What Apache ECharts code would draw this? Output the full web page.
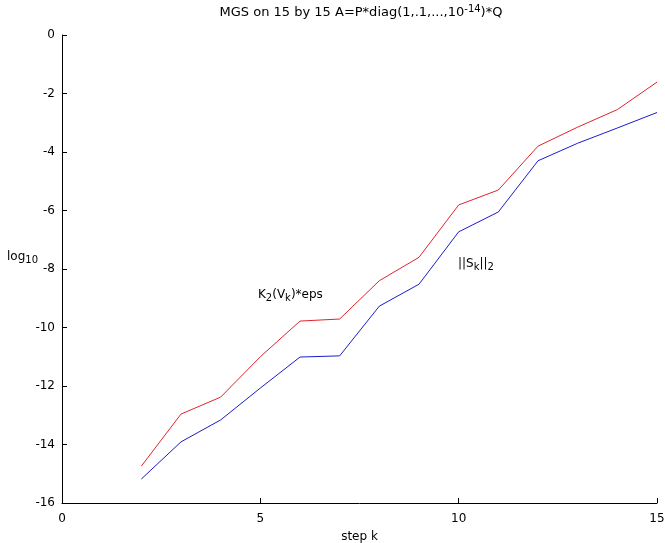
<!DOCTYPE html>
<html>
<head>
<meta charset="utf-8">
<script src="https://cdn.jsdelivr.net/npm/echarts@6/dist/echarts.min.js"></script>
<style>
html,body{margin:0;padding:0;background:#fff;}
#chart{width:665px;height:543px;}
</style>
</head>
<body>
<div id="chart"></div>
<script>
var steps = [2, 3, 4, 5, 6, 7, 8, 9, 10, 11, 12, 13, 14, 15];
var kappaEps = [-14.74, -12.96, -12.38, -11.0, -9.78, -9.71, -8.4, -7.6, -5.81, -5.3, -3.8, -3.15, -2.55, -1.61];
var normS = [-15.18, -13.91, -13.16, -12.07, -11.01, -10.97, -9.27, -8.52, -6.73, -6.05, -4.3, -3.7, -3.18, -2.65];
var xTicks = [0, 5, 10, 15];
var yTicks = [0, -2, -4, -6, -8, -10, -12, -14, -16];

var FONT = '"DejaVu Sans", "Liberation Sans", Arial, sans-serif';
var chart = echarts.init(document.getElementById('chart'), null, {renderer: 'canvas'});

function pairs(xs, ys) { return xs.map(function (x, i) { return [x, ys[i]]; }); }

var normal = {fontFamily: FONT, fontSize: 12, color: '#000', lineHeight: 14, verticalAlign: 'top'};
var sub = {fontFamily: FONT, fontSize: 10, color: '#000', lineHeight: 10, verticalAlign: 'bottom', padding: [9, 0, 0, 0]};
var normalB = {fontFamily: FONT, fontSize: 13, color: '#000', lineHeight: 15, verticalAlign: 'bottom', padding: [6, 0, 0, 0]};
var sup = {fontFamily: FONT, fontSize: 10, color: '#000', lineHeight: 11, verticalAlign: 'top', padding: [0, 0, 8, 0]};

chart.setOption({
  animation: false,
  backgroundColor: '#fff',
  grid: {left: 62, right: 8, top: 35, bottom: 40, containLabel: false, outerBoundsMode: 'none'},
  xAxis: {
    type: 'value', min: 0, max: 15, interval: 5,
    name: 'step k', nameLocation: 'middle', nameGap: 28,
    nameTextStyle: {fontFamily: FONT, fontSize: 12, color: '#000'},
    axisLine: {onZero: false, lineStyle: {color: '#000', width: 1}},
    axisTick: {inside: true, length: 5, lineStyle: {color: '#000'}},
    axisLabel: {fontFamily: FONT, fontSize: 12, color: '#000', margin: 10,
      formatter: function (v) { return xTicks.indexOf(v) >= 0 ? String(v) : ''; }},
    splitLine: {show: false}
  },
  yAxis: {
    type: 'value', min: -16, max: 0, interval: 2,
    axisLine: {onZero: false, lineStyle: {color: '#000', width: 1}},
    axisTick: {inside: true, length: 5, lineStyle: {color: '#000'}},
    axisLabel: {fontFamily: FONT, fontSize: 12, color: '#000', margin: 7,
      formatter: function (v) { return yTicks.indexOf(v) >= 0 ? String(v) : ''; }},
    splitLine: {show: false}
  },
  series: [
    {type: 'line', data: pairs(steps, kappaEps), symbol: 'none',
      lineStyle: {color: '#e0242c', width: 1}, itemStyle: {color: '#e0242c'}},
    {type: 'line', data: pairs(steps, normS), symbol: 'none',
      lineStyle: {color: '#1c1ccc', width: 1}, itemStyle: {color: '#1c1ccc'}}
  ],
  graphic: [
    {type: 'text', x: 361, y: 4, style: {
      text: '{a|MGS on 15 by 15 A=P*diag(1,.1,...,10}{p|-14}{a|)*Q}',
      align: 'center', rich: {a: normalB, p: sup}}},
    {type: 'text', x: 7, y: 251, style: {
      text: '{a|log}{s|10}', rich: {a: normal, s: sub}}},
    {type: 'text', x: 258, y: 289, style: {
      text: '{a|K}{s|2}{a|(V}{s|k}{a|)*eps}', rich: {a: normal, s: sub}}},
    {type: 'text', x: 458, y: 258, style: {
      text: '{a|||S}{s|k}{a|||}{s|2}', rich: {a: normal, s: sub}}}
  ]
});
</script>
</body>
</html>
